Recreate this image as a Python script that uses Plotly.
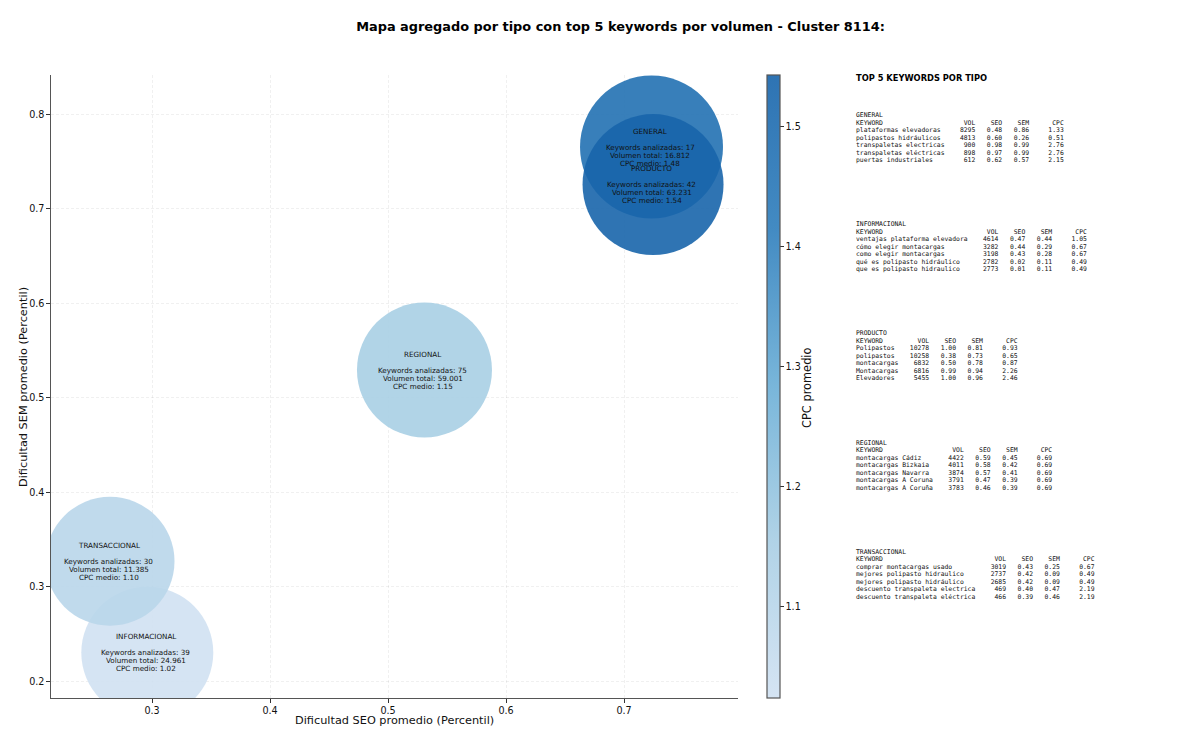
import plotly.graph_objects as go

## ---- datos del mapa agregado ---- ##
tipos = ["GENERAL", "INFORMACIONAL", "PRODUCTO", "REGIONAL", "TRANSACCIONAL"]
seo_medio = [0.7233, 0.2960, 0.7246, 0.5309, 0.2644]
sem_medio = [0.7656, 0.2305, 0.7258, 0.5296, 0.3272]
cpc_medio = [1.48, 1.02, 1.54, 1.15, 1.10]
keywords_analizadas = [17, 39, 42, 75, 30]
volumen_total = [16812, 24961, 63231, 59001, 11385]

## ---- top 5 por tipo ---- ##
top_general = ["plataformas elevadoras", "polipastos hidráulicos", "transpaletas electricas", "transpaletas eléctricas", "puertas industriales"]
vol_general = [8295, 4813, 900, 898, 612]
seo_general = [0.48, 0.60, 0.98, 0.97, 0.62]
sem_general = [0.86, 0.26, 0.99, 0.99, 0.57]
cpc_general = [1.33, 0.51, 2.76, 2.76, 2.15]

top_informacional = ["ventajas plataforma elevadora", "cómo elegir montacargas", "como elegir montacargas", "qué es polipasto hidráulico", "que es polipasto hidraulico"]
vol_informacional = [4614, 3282, 3198, 2782, 2773]
seo_informacional = [0.47, 0.44, 0.43, 0.02, 0.01]
sem_informacional = [0.44, 0.29, 0.28, 0.11, 0.11]
cpc_informacional = [1.05, 0.67, 0.67, 0.49, 0.49]

top_producto = ["Polipastos", "polipastos", "montacargas", "Montacargas", "Elevadores"]
vol_producto = [10278, 10258, 6832, 6816, 5455]
seo_producto = [1.00, 0.38, 0.50, 0.99, 1.00]
sem_producto = [0.81, 0.73, 0.78, 0.94, 0.96]
cpc_producto = [0.93, 0.65, 0.87, 2.26, 2.46]

top_regional = ["montacargas Cádiz", "montacargas Bizkaia", "montacargas Navarra", "montacargas A Coruna", "montacargas A Coruña"]
vol_regional = [4422, 4011, 3874, 3791, 3783]
seo_regional = [0.59, 0.58, 0.57, 0.47, 0.46]
sem_regional = [0.45, 0.42, 0.41, 0.39, 0.39]
cpc_regional = [0.69, 0.69, 0.69, 0.69, 0.69]

top_transaccional = ["comprar montacargas usado", "mejores polipasto hidraulico", "mejores polipasto hidráulico", "descuento transpaleta electrica", "descuento transpaleta eléctrica"]
vol_transaccional = [3019, 2737, 2685, 469, 466]
seo_transaccional = [0.43, 0.42, 0.42, 0.40, 0.39]
sem_transaccional = [0.25, 0.09, 0.09, 0.47, 0.46]
cpc_transaccional = [0.67, 0.49, 0.49, 2.19, 2.19]

secciones = [
    ("GENERAL", top_general, vol_general, seo_general, sem_general, cpc_general),
    ("INFORMACIONAL", top_informacional, vol_informacional, seo_informacional, sem_informacional, cpc_informacional),
    ("PRODUCTO", top_producto, vol_producto, seo_producto, sem_producto, cpc_producto),
    ("REGIONAL", top_regional, vol_regional, seo_regional, sem_regional, cpc_regional),
    ("TRANSACCIONAL", top_transaccional, vol_transaccional, seo_transaccional, sem_transaccional, cpc_transaccional),
]

## ---- estilo ---- ##
FONT = "DejaVu Sans"
MONO = "DejaVu Sans Mono"
LEFT, RIGHT, TOP, BOTTOM = 51, 738, 75, 698
diametros = [143, 132, 141, 135, 129]
escala = [
    [0.0, "rgba(208,225,242,0.9)"],
    [0.25, "rgba(168,206,228,0.9)"],
    [0.5, "rgba(106,174,214,0.9)"],
    [0.75, "rgba(46,126,188,0.9)"],
    [1.0, "rgba(23,100,171,0.9)"],
]


def paper_x(px):
    return (px - LEFT) / (RIGHT - LEFT)


def paper_y(py):
    return (BOTTOM - py) / (BOTTOM - TOP)


def fila(kw, vol, seo, sem, cpc, ancho):
    return f"{kw:<{ancho}} {vol:>7} {seo:>6} {sem:>6} {cpc:>8}"


fig = go.Figure()
fig.add_trace(go.Scatter(
    x=seo_medio, y=sem_medio, mode="markers", showlegend=False, hoverinfo="skip",
    marker=dict(
        size=diametros, color=cpc_medio, cmin=1.024, cmax=1.543, colorscale=escala, opacity=1,
        line=dict(width=0),
        colorbar=dict(
            x=paper_x(767), xanchor="left", y=0, yanchor="bottom",
            thickness=13, thicknessmode="pixels", len=1, lenmode="fraction", xpad=0, ypad=0,
            outlinecolor="#555", outlinewidth=1.2, tickvals=[1.1, 1.2, 1.3, 1.4, 1.5], ticktext=["1.1", "1.2", "1.3", "1.4", "1.5"],
            ticks="outside", ticklen=3.5, tickcolor="#333", tickfont=dict(size=9.6, color="#111", family=FONT),
        ),
    ),
))

## etiquetas de cada burbuja
for i, tipo in enumerate(tipos):
    volumen = f"{volumen_total[i]:,}".replace(",", ".")
    lineas = [
        (tipo, 16),
        (f"Keywords analizadas: {keywords_analizadas[i]}", 0),
        (f"Volumen total: {volumen}", -8),
        (f"CPC medio: {cpc_medio[i]:.2f}", -16),
    ]
    for texto, shift in lineas:
        fig.add_annotation(x=seo_medio[i], y=sem_medio[i], xref="x", yref="y", xshift=-1.5, yshift=shift, text=texto, showarrow=False,
                           font=dict(size=7.2, color="#111", family=FONT), xanchor="center", yanchor="middle")

## panel de texto de la derecha
fig.add_annotation(x=paper_x(854), y=paper_y(78), xref="paper", yref="paper", text="<b>TOP 5 KEYWORDS POR TIPO</b>", showarrow=False,
                   font=dict(size=8.3, color="black", family=FONT), xanchor="left", yanchor="middle")
for n, (nombre, kws, vols, seos, sems, cpcs) in enumerate(secciones):
    ancho = max(len(k) for k in kws)
    lineas = [nombre, fila("KEYWORD", "VOL", "SEO", "SEM", "CPC", ancho)]
    for j in range(len(kws)):
        lineas.append(fila(kws[j], vols[j], f"{seos[j]:.2f}", f"{sems[j]:.2f}", f"{cpcs[j]:.2f}", ancho))
    y0 = 115 + 109.2 * n
    for k, linea in enumerate(lineas):
        fig.add_annotation(x=paper_x(854), y=paper_y(y0 + 7.5 * k), xref="paper", yref="paper", text=linea.replace(" ", "\u00a0"), showarrow=False,
                           font=dict(size=6.4, color="#111", family=MONO), xanchor="left", yanchor="middle", align="left")

## titulos de ejes
fig.add_annotation(x=paper_x(394), y=paper_y(720), xref="paper", yref="paper", text="Dificultad SEO promedio (Percentil)", showarrow=False,
                   font=dict(size=11.3, color="#111", family=FONT), xanchor="center", yanchor="middle")
fig.add_annotation(x=paper_x(23), y=paper_y(387), xref="paper", yref="paper", text="Dificultad SEM promedio (Percentil)", showarrow=False, textangle=-90,
                   font=dict(size=11.3, color="#111", family=FONT), xanchor="center", yanchor="middle")
fig.add_annotation(x=paper_x(807), y=paper_y(387), xref="paper", yref="paper", text="CPC promedio", showarrow=False, textangle=-90,
                   font=dict(size=11.4, color="#111", family=FONT), xanchor="center", yanchor="middle")

eje = dict(
    showline=True, linecolor="#555", linewidth=1.3, ticks="outside", ticklen=3.5, tickcolor="#333",
    tickfont=dict(size=9.6, color="#111", family=FONT), showgrid=True, gridcolor="rgba(0,0,0,0.06)", griddash="3px,2px", gridwidth=0.8,
    zeroline=False, mirror=False,
)
fig.update_xaxes(eje, range=[0.2144, 0.7966], tickvals=[0.3, 0.4, 0.5, 0.6, 0.7], ticktext=["0.3", "0.4", "0.5", "0.6", "0.7"])
fig.update_yaxes(eje, range=[0.1825, 0.8418], tickvals=[0.2, 0.3, 0.4, 0.5, 0.6, 0.7, 0.8], ticktext=["0.2", "0.3", "0.4", "0.5", "0.6", "0.7", "0.8"])

fig.update_layout(
    width=1200, height=745, margin=dict(l=LEFT, r=1200 - RIGHT, t=TOP, b=745 - BOTTOM, autoexpand=False),
    paper_bgcolor="white", plot_bgcolor="white",
    title=dict(text="<b>Mapa agregado por tipo con top 5 keywords por volumen - Cluster 8114:</b>", x=620.5 / 1200, xref="container", xanchor="center",
               y=1 - 26 / 745, yref="container", yanchor="middle", font=dict(size=12.9, color="black", family=FONT)),
)

fig.write_html("out.html", config={"displayModeBar": False}, post_script="document.body.style.margin='0';")
